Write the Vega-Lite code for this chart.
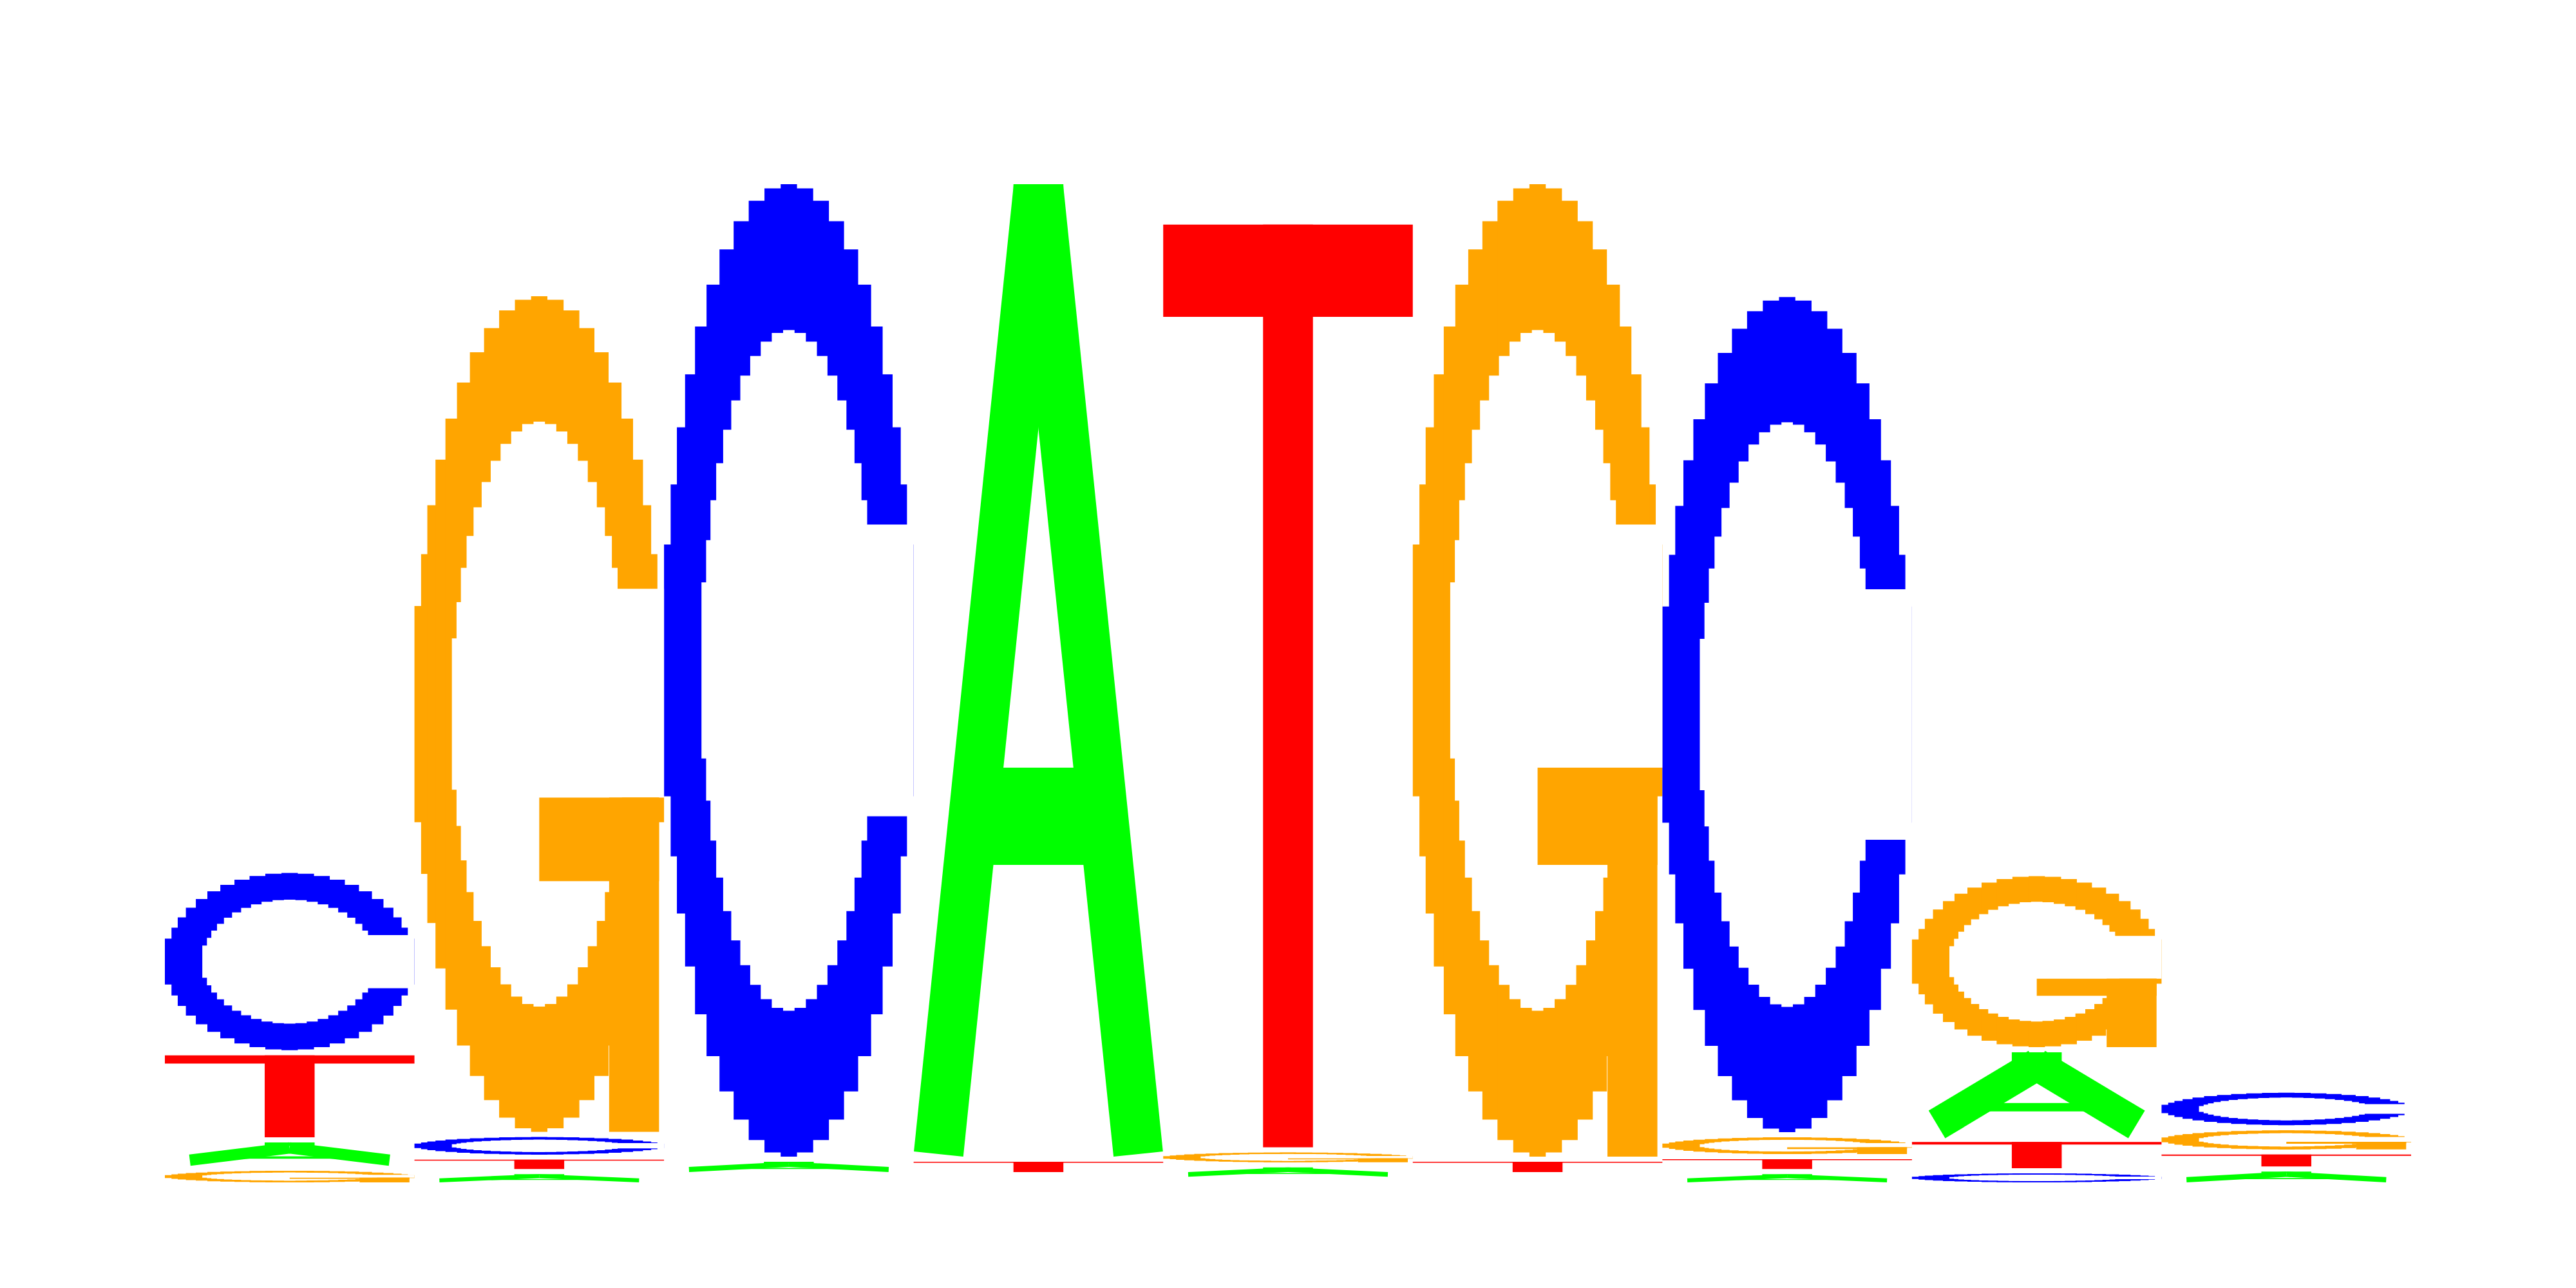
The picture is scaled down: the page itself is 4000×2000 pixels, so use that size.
{
  "$schema": "https://vega.github.io/schema/vega-lite/v6.json",
  "width": 3488,
  "height": 1600,
  "autosize": {"type": "none"},
  "padding": {"left": 256, "top": 236, "right": 256, "bottom": 164},
  "background": "white",
  "config": {"view": {"stroke": null}},
  "data": {"values": [
    {"pos": 1, "base": "A", "h": 0.055}, {"pos": 1, "base": "C", "h": 0.354}, {"pos": 1, "base": "G", "h": 0.0325}, {"pos": 1, "base": "T", "h": 0.169},
    {"pos": 2, "base": "A", "h": 0.026}, {"pos": 2, "base": "C", "h": 0.044}, {"pos": 2, "base": "G", "h": 1.632}, {"pos": 2, "base": "T", "h": 0.028},
    {"pos": 3, "base": "A", "h": 0.03}, {"pos": 3, "base": "C", "h": 1.8975}, {"pos": 3, "base": "G", "h": 0.01}, {"pos": 3, "base": "T", "h": 0.01},
    {"pos": 4, "base": "A", "h": 1.8975}, {"pos": 4, "base": "C", "h": 0.01}, {"pos": 4, "base": "G", "h": 0.01}, {"pos": 4, "base": "T", "h": 0.03},
    {"pos": 5, "base": "A", "h": 0.028}, {"pos": 5, "base": "C", "h": 0.011}, {"pos": 5, "base": "G", "h": 0.029}, {"pos": 5, "base": "T", "h": 1.801},
    {"pos": 6, "base": "A", "h": 0.01}, {"pos": 6, "base": "C", "h": 0.01}, {"pos": 6, "base": "G", "h": 1.8975}, {"pos": 6, "base": "T", "h": 0.03},
    {"pos": 7, "base": "A", "h": 0.026}, {"pos": 7, "base": "C", "h": 1.631}, {"pos": 7, "base": "G", "h": 0.0425}, {"pos": 7, "base": "T", "h": 0.029},
    {"pos": 8, "base": "A", "h": 0.174}, {"pos": 8, "base": "C", "h": 0.0275}, {"pos": 8, "base": "G", "h": 0.342}, {"pos": 8, "base": "T", "h": 0.061},
    {"pos": 9, "base": "A", "h": 0.031}, {"pos": 9, "base": "C", "h": 0.073}, {"pos": 9, "base": "G", "h": 0.047}, {"pos": 9, "base": "T", "h": 0.033}
  ]},
  "transform": [
    {"stack": "h", "groupby": ["pos"], "sort": [{"field": "h", "order": "ascending"}], "as": ["y0", "y1"]},
    {"filter": "datum.h > 0.015"}
  ],
  "encoding": {
    "x": {"field": "pos", "type": "ordinal", "scale": {"paddingInner": 0, "paddingOuter": 0}, "axis": null},
    "y": {"field": "y0", "type": "quantitative", "scale": {"domain": [0, 2], "nice": false}, "axis": null},
    "y2": {"field": "y1"}
  },
  "layer": [
    {
      "transform": [{"filter": "datum.base === 'T'"}],
      "layer": [
        {"mark": {"type": "bar", "color": "#FF0000", "y2Offset": 8, "yOffset": {"expr": "-0.9*(datum.h*height/2-8)"}}},
        {"mark": {"type": "bar", "color": "#FF0000", "width": {"band": 0.2}, "y2Offset": 8}}
      ]
    },
    {
      "transform": [{"filter": "datum.base === 'A'"}],
      "layer": [
        {
          "mark": {"type": "bar", "color": "#00FF00", "width": {"band": 0.4}, "xOffset": {"expr": "0*bandwidth('x')"}, "yOffset": {"expr": "-0.30*(datum.h*height/2-8)"}, "y2Offset": {"expr": "-0.40*(datum.h*height/2-8)"}},
          "encoding": {"y2": {"field": "y0"}}
        },
        {
          "mark": {"type": "bar", "color": "#00FF00", "width": {"band": 0.2}, "xOffset": {"expr": "0*bandwidth('x')"}, "yOffset": {"expr": "-0.85*(datum.h*height/2-8)"}, "y2Offset": {"expr": "-(datum.h*height/2-8)"}},
          "encoding": {"y2": {"field": "y0"}}
        },
        {
          "mark": {"type": "rule", "color": "#00FF00",
            "strokeWidth": {"expr": "0.2*bandwidth('x')*(datum.h*height/2-8)/sqrt(pow(datum.h*height/2-8,2)+pow(0.4*bandwidth('x'),2))"},
            "yOffset": {"expr": "-0.04*pow(bandwidth('x'),2)*(datum.h*height/2-8)/(pow(datum.h*height/2-8,2)+pow(0.4*bandwidth('x'),2))"},
            "y2Offset": {"expr": "8+0.04*pow(bandwidth('x'),2)*(datum.h*height/2-8)/(pow(datum.h*height/2-8,2)+pow(0.4*bandwidth('x'),2))"}},
          "encoding": {
            "x": {"field": "pos", "type": "ordinal", "bandPosition": 0.1, "axis": null},
            "x2": {"field": "pos", "bandPosition": 0.5}
          }
        },
        {
          "mark": {"type": "rule", "color": "#00FF00",
            "strokeWidth": {"expr": "0.2*bandwidth('x')*(datum.h*height/2-8)/sqrt(pow(datum.h*height/2-8,2)+pow(0.4*bandwidth('x'),2))"},
            "yOffset": {"expr": "-0.04*pow(bandwidth('x'),2)*(datum.h*height/2-8)/(pow(datum.h*height/2-8,2)+pow(0.4*bandwidth('x'),2))"},
            "y2Offset": {"expr": "8+0.04*pow(bandwidth('x'),2)*(datum.h*height/2-8)/(pow(datum.h*height/2-8,2)+pow(0.4*bandwidth('x'),2))"}},
          "encoding": {
            "x": {"field": "pos", "type": "ordinal", "bandPosition": 0.9, "axis": null},
            "x2": {"field": "pos", "bandPosition": 0.5}
          }
        }
      ]
    },
    {
      "transform": [{"filter": "datum.base === 'C' || datum.base === 'G'"}],
      "encoding": {
        "color": {"field": "base", "type": "nominal", "scale": {"domain": ["A", "C", "G", "T"], "range": ["#00FF00", "#0000FF", "#FFA500", "#FF0000"]}, "legend": null}
      },
      "layer": [
        {"mark": {"type": "bar", "width": {"band": 1.0}, "yOffset": {"expr": "-0.3706*(datum.h*height/2-8)"}, "y2Offset": {"expr": "8+0.3706*(datum.h*height/2-8)"}}},
        {"mark": {"type": "bar", "width": {"band": 0.9469}, "yOffset": {"expr": "-0.3087*(datum.h*height/2-8)"}, "y2Offset": {"expr": "8+0.3087*(datum.h*height/2-8)"}}},
        {"mark": {"type": "bar", "width": {"band": 0.8969}, "yOffset": {"expr": "-0.25*(datum.h*height/2-8)"}, "y2Offset": {"expr": "8+0.25*(datum.h*height/2-8)"}}},
        {"mark": {"type": "bar", "width": {"band": 0.8315}, "yOffset": {"expr": "-0.1956*(datum.h*height/2-8)"}, "y2Offset": {"expr": "8+0.1956*(datum.h*height/2-8)"}}},
        {"mark": {"type": "bar", "width": {"band": 0.7518}, "yOffset": {"expr": "-0.1464*(datum.h*height/2-8)"}, "y2Offset": {"expr": "8+0.1464*(datum.h*height/2-8)"}}},
        {"mark": {"type": "bar", "width": {"band": 0.6593}, "yOffset": {"expr": "-0.1033*(datum.h*height/2-8)"}, "y2Offset": {"expr": "8+0.1033*(datum.h*height/2-8)"}}},
        {"mark": {"type": "bar", "width": {"band": 0.5556}, "yOffset": {"expr": "-0.067*(datum.h*height/2-8)"}, "y2Offset": {"expr": "8+0.067*(datum.h*height/2-8)"}}},
        {"mark": {"type": "bar", "width": {"band": 0.4423}, "yOffset": {"expr": "-0.0381*(datum.h*height/2-8)"}, "y2Offset": {"expr": "8+0.0381*(datum.h*height/2-8)"}}},
        {"mark": {"type": "bar", "width": {"band": 0.3214}, "yOffset": {"expr": "-0.017*(datum.h*height/2-8)"}, "y2Offset": {"expr": "8+0.017*(datum.h*height/2-8)"}}},
        {"mark": {"type": "bar", "width": {"band": 0.1951}, "yOffset": {"expr": "-0.0043*(datum.h*height/2-8)"}, "y2Offset": {"expr": "8+0.0043*(datum.h*height/2-8)"}}},
        {"mark": {"type": "bar", "width": {"band": 0.0654}, "y2Offset": 8}},
        {"mark": {"type": "bar", "width": {"band": 0.70}, "yOffset": {"expr": "-0.4094*(datum.h*height/2-8)"}, "y2Offset": {"expr": "8+0.4094*(datum.h*height/2-8)"}}, "encoding": {"color": {"value": "#FFFFFF"}}},
        {"mark": {"type": "bar", "width": {"band": 0.6628}, "yOffset": {"expr": "-0.3661*(datum.h*height/2-8)"}, "y2Offset": {"expr": "8+0.3661*(datum.h*height/2-8)"}}, "encoding": {"color": {"value": "#FFFFFF"}}},
        {"mark": {"type": "bar", "width": {"band": 0.6278}, "yOffset": {"expr": "-0.325*(datum.h*height/2-8)"}, "y2Offset": {"expr": "8+0.325*(datum.h*height/2-8)"}}, "encoding": {"color": {"value": "#FFFFFF"}}},
        {"mark": {"type": "bar", "width": {"band": 0.5821}, "yOffset": {"expr": "-0.2869*(datum.h*height/2-8)"}, "y2Offset": {"expr": "8+0.2869*(datum.h*height/2-8)"}}, "encoding": {"color": {"value": "#FFFFFF"}}},
        {"mark": {"type": "bar", "width": {"band": 0.5263}, "yOffset": {"expr": "-0.2525*(datum.h*height/2-8)"}, "y2Offset": {"expr": "8+0.2525*(datum.h*height/2-8)"}}, "encoding": {"color": {"value": "#FFFFFF"}}},
        {"mark": {"type": "bar", "width": {"band": 0.4615}, "yOffset": {"expr": "-0.2223*(datum.h*height/2-8)"}, "y2Offset": {"expr": "8+0.2223*(datum.h*height/2-8)"}}, "encoding": {"color": {"value": "#FFFFFF"}}},
        {"mark": {"type": "bar", "width": {"band": 0.3889}, "yOffset": {"expr": "-0.1969*(datum.h*height/2-8)"}, "y2Offset": {"expr": "8+0.1969*(datum.h*height/2-8)"}}, "encoding": {"color": {"value": "#FFFFFF"}}},
        {"mark": {"type": "bar", "width": {"band": 0.3096}, "yOffset": {"expr": "-0.1766*(datum.h*height/2-8)"}, "y2Offset": {"expr": "8+0.1766*(datum.h*height/2-8)"}}, "encoding": {"color": {"value": "#FFFFFF"}}},
        {"mark": {"type": "bar", "width": {"band": 0.225}, "yOffset": {"expr": "-0.1619*(datum.h*height/2-8)"}, "y2Offset": {"expr": "8+0.1619*(datum.h*height/2-8)"}}, "encoding": {"color": {"value": "#FFFFFF"}}},
        {"mark": {"type": "bar", "width": {"band": 0.1366}, "yOffset": {"expr": "-0.153*(datum.h*height/2-8)"}, "y2Offset": {"expr": "8+0.153*(datum.h*height/2-8)"}}, "encoding": {"color": {"value": "#FFFFFF"}}},
        {"mark": {"type": "bar", "width": {"band": 0.0458}, "yOffset": {"expr": "-0.15*(datum.h*height/2-8)"}, "y2Offset": {"expr": "8+0.15*(datum.h*height/2-8)"}}, "encoding": {"color": {"value": "#FFFFFF"}}}
      ]
    },
    {
      "transform": [{"filter": "datum.base === 'C'"}],
      "mark": {"type": "bar", "color": "#FFFFFF", "width": {"band": 0.2}, "xOffset": {"expr": "0.4*bandwidth('x')"}, "yOffset": {"expr": "-0.35*(datum.h*height/2-8)"}, "y2Offset": {"expr": "-0.65*(datum.h*height/2-8)"}},
      "encoding": {"y2": {"field": "y0"}}
    },
    {
      "transform": [{"filter": "datum.base === 'G'"}],
      "encoding": {"y2": {"field": "y0"}},
      "layer": [
        {"mark": {"type": "bar", "color": "#FFFFFF", "width": {"band": 0.2}, "xOffset": {"expr": "0.4*bandwidth('x')"}, "yOffset": {"expr": "-0.40*(datum.h*height/2-8)"}, "y2Offset": {"expr": "-0.65*(datum.h*height/2-8)"}}},
        {"mark": {"type": "bar", "color": "#FFA500", "width": {"band": 0.48}, "xOffset": {"expr": "0.24*bandwidth('x')"}, "yOffset": {"expr": "-0.30*(datum.h*height/2-8)"}, "y2Offset": {"expr": "-0.40*(datum.h*height/2-8)"}}},
        {"mark": {"type": "bar", "color": "#FFA500", "width": {"band": 0.2}, "xOffset": {"expr": "0.38*bandwidth('x')"}, "y2Offset": {"expr": "-0.40*(datum.h*height/2-8)"}}}
      ]
    }
  ]
}
